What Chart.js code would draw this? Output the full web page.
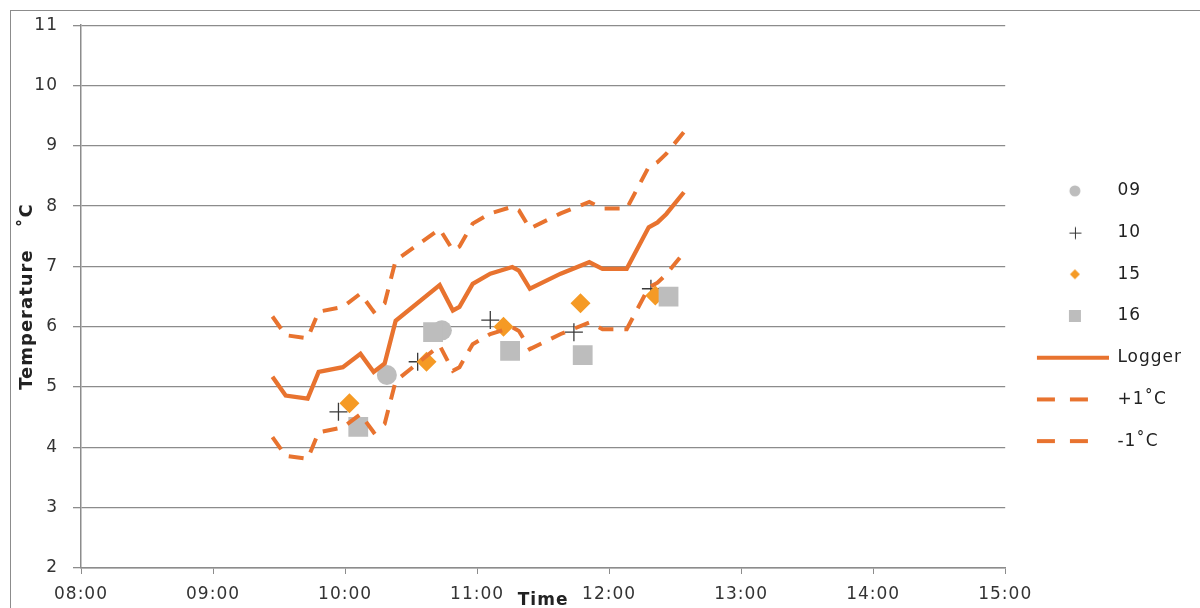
<!DOCTYPE html>
<html>
<head>
<meta charset="utf-8">
<script src="https://cdn.jsdelivr.net/npm/chart.js@4/dist/chart.umd.min.js"></script>
<style>
  body { margin: 0; background: #fff; }
  #frame { position: absolute; left: 10px; top: 10px; width: 1200px; height: 620px;
           border-top: 1px solid #8c8c8c; border-left: 1px solid #8c8c8c; }
  #wrap { position: absolute; left: 0; top: 0; width: 1200px; height: 608px; }
</style>
</head>
<body>
<div id="frame"></div>
<div id="wrap"><canvas id="chart"></canvas></div>
<script>
// waktu pembacaan logger (jam:menit)
const loggerTimes = ["09:27", "09:33", "09:43", "09:48", "09:59", "10:07", "10:13", "10:18", "10:23",
    "10:43", "10:49", "10:52", "10:58", "11:06", "11:16", "11:19", "11:24", "11:38", "11:51",
    "11:57", "12:08", "12:18", "12:22", "12:26", "12:34"];
const loggerTemp = [5.17, 4.86, 4.81, 5.25, 5.33, 5.55, 5.25, 5.39, 6.10, 6.69, 6.27, 6.33, 6.71,
    6.88, 6.99, 6.93, 6.63, 6.88, 7.07, 6.96, 6.96, 7.65, 7.73, 7.87, 8.23];
const upperTemp = [6.17, 5.86, 5.81, 6.25, 6.33, 6.55, 6.25, 6.39, 7.10, 7.62, 7.27, 7.33, 7.71,
    7.88, 7.99, 7.93, 7.63, 7.88, 8.07, 7.96, 7.96, 8.65, 8.73, 8.87, 9.23];
const lowerTemp = [4.17, 3.86, 3.81, 4.25, 4.33, 4.55, 4.25, 4.39, 5.10, 5.69, 5.27, 5.33, 5.71,
    5.88, 5.99, 5.93, 5.63, 5.88, 6.07, 5.96, 5.96, 6.65, 6.73, 6.87, 7.23];

// titik pengukuran per sensor
const s09Times = ["10:19", "10:44"];
const s09Temp = [5.20, 5.94];
const s10Times = ["09:57", "10:33", "11:06", "11:44", "12:19"];
const s10Temp = [4.59, 5.42, 6.11, 5.91, 6.63];
const s15Times = ["10:02", "10:37", "11:12", "11:47", "12:21"];
const s15Temp = [4.73, 5.42, 6.00, 6.39, 6.52];
const s16Times = ["10:06", "10:40", "11:15", "11:48", "12:27"];
const s16Temp = [4.34, 5.91, 5.60, 5.53, 6.50];

const seriesNames = ["09", "10", "15", "16", "Logger", "+1\u02DAC", "-1\u02DAC"];
const xTicks = ["08:00", "09:00", "10:00", "11:00", "12:00", "13:00", "14:00", "15:00"];
const yTicks = [2, 3, 4, 5, 6, 7, 8, 9, 10, 11];

const ORANGE = "#e8732f";
const DIAMOND = "#f59a25";
const GREY = "#bdbdbd";

function toHours(t) {
    const p = t.split(":");
    return Number(p[0]) + Number(p[1]) / 60;
}
function pts(times, temps) {
    return times.map((t, i) => ({ x: toHours(t), y: temps[i] }));
}

// ikon legenda kecil (lebar 79, simbol di bagian 7..79)
const ICON_W = 79;
function icon(kind) {
    const c = document.createElement("canvas");
    c.width = ICON_W; c.height = 20;
    const g = c.getContext("2d");
    const cx = 45;
    if (kind === "circle") {
        g.fillStyle = GREY; g.beginPath(); g.arc(cx, 10, 5.5, 0, Math.PI * 2); g.fill();
    } else if (kind === "cross") {
        g.strokeStyle = "#333"; g.lineWidth = 1;
        g.beginPath(); g.moveTo(cx - 5.5, 10.5); g.lineTo(cx + 6.5, 10.5);
        g.moveTo(cx + 0.5, 4.5); g.lineTo(cx + 0.5, 16.5); g.stroke();
    } else if (kind === "diamond") {
        g.fillStyle = DIAMOND; g.beginPath();
        g.moveTo(cx, 5); g.lineTo(cx + 5, 10); g.lineTo(cx, 15); g.lineTo(cx - 5, 10); g.closePath(); g.fill();
    } else if (kind === "square") {
        g.fillStyle = GREY; g.fillRect(cx - 6, 4, 12, 12);
    } else if (kind === "dash") {
        g.strokeStyle = ORANGE; g.lineWidth = 4;
        g.setLineDash([18, 15]);
        g.beginPath(); g.moveTo(7, 10); g.lineTo(58, 10); g.stroke();
    } else {
        g.strokeStyle = ORANGE; g.lineWidth = 4;
        g.beginPath(); g.moveTo(7, 10); g.lineTo(ICON_W, 10); g.stroke();
    }
    return c;
}
const legendIcons = [icon("circle"), icon("cross"), icon("diamond"), icon("square"),
    icon("line"), icon("dash"), icon("dash")];

const font = "'DejaVu Sans', Verdana, sans-serif";

// teks agak renggang seperti aslinya
const spacing = {
    id: "spacing",
    beforeLayout: (ch) => { ch.ctx.letterSpacing = "1px"; },
    beforeDraw: (ch) => { ch.ctx.letterSpacing = "1px"; },
};

const chart = new Chart(document.getElementById("chart"), {
    type: "scatter",
    plugins: [spacing],
    data: {
        datasets: [
            { label: seriesNames[0], data: pts(s09Times, s09Temp), order: 6,
              pointStyle: "circle", pointRadius: 10, backgroundColor: GREY, borderWidth: 0 },
            { label: seriesNames[1], data: pts(s10Times, s10Temp), order: 5,
              pointStyle: "cross", pointRadius: 9, borderColor: "#3a3a3a", borderWidth: 1.3 },
            { label: seriesNames[2], data: pts(s15Times, s15Temp), order: 4,
              pointStyle: "rectRot", pointRadius: 10, backgroundColor: DIAMOND, borderWidth: 0 },
            { label: seriesNames[3], data: pts(s16Times, s16Temp), order: 3,
              pointStyle: "rect", pointRadius: 14, backgroundColor: GREY, borderWidth: 0 },
            { label: seriesNames[4], data: pts(loggerTimes, loggerTemp), order: 2,
              showLine: true, pointRadius: 0, borderColor: ORANGE, borderWidth: 4.3 },
            { label: seriesNames[5], data: pts(loggerTimes, upperTemp), order: 1,
              showLine: true, pointRadius: 0, borderColor: ORANGE, borderWidth: 4, borderDash: [15, 11] },
            { label: seriesNames[6], data: pts(loggerTimes, lowerTemp), order: 0,
              showLine: true, pointRadius: 0, borderColor: ORANGE, borderWidth: 4, borderDash: [15, 11] },
        ],
    },
    options: {
        responsive: true,
        maintainAspectRatio: false,
        animation: false,
        layout: { padding: { top: 24, right: 8, left: 0, bottom: 0 } },
        scales: {
            x: {
                type: "linear",
                min: toHours(xTicks[0]),
                max: toHours(xTicks[xTicks.length - 1]),
                afterBuildTicks: (axis) => { axis.ticks = xTicks.map((t) => ({ value: toHours(t) })); },
                afterFit: (s) => { s.height = 40; },
                ticks: {
                    callback: (v) => xTicks.find((t) => toHours(t) === v) || "",
                    color: "#333", font: { family: font, size: 17 }, padding: 10, maxRotation: 0,
                },
                grid: { drawOnChartArea: false, drawTicks: true, tickLength: 6, color: "#8c8c8c" },
                border: { color: "#8c8c8c", width: 1.5 },
                title: { display: true, text: "Time", color: "#222",
                         font: { family: font, size: 17, weight: "bold" }, padding: { top: 0, bottom: -3 } },
            },
            y: {
                min: yTicks[0],
                max: yTicks[yTicks.length - 1],
                afterBuildTicks: (axis) => { axis.ticks = yTicks.map((v) => ({ value: v })); },
                afterFit: (s) => { s.width = 81; },
                ticks: { color: "#333", font: { family: font, size: 17 }, padding: 15 },
                grid: { color: "#8c8c8c", lineWidth: 1.3, tickLength: 8 },
                border: { color: "#8c8c8c", width: 1.5 },
                title: { display: true, text: "Temperature   \u02DAC", color: "#222",
                         font: { family: font, size: 18, weight: "bold" }, padding: { top: 17, bottom: 0 } },
            },
        },
        plugins: {
            tooltip: { enabled: false },
            legend: {
                position: "right",
                labels: {
                    usePointStyle: true,
                    pointStyleWidth: ICON_W,
                    boxWidth: ICON_W,
                    boxHeight: 16,
                    padding: 24.7,
                    color: "#222",
                    font: { family: font, size: 17 },
                    sort: (a, b) => a.datasetIndex - b.datasetIndex,
                    generateLabels: function (ch) {
                        const items = Chart.defaults.plugins.legend.labels.generateLabels(ch);
                        return items.map((it) => {
                            it.pointStyle = legendIcons[it.datasetIndex];
                            return it;
                        });
                    },
                },
            },
        },
    },
});
</script>
</body>
</html>
